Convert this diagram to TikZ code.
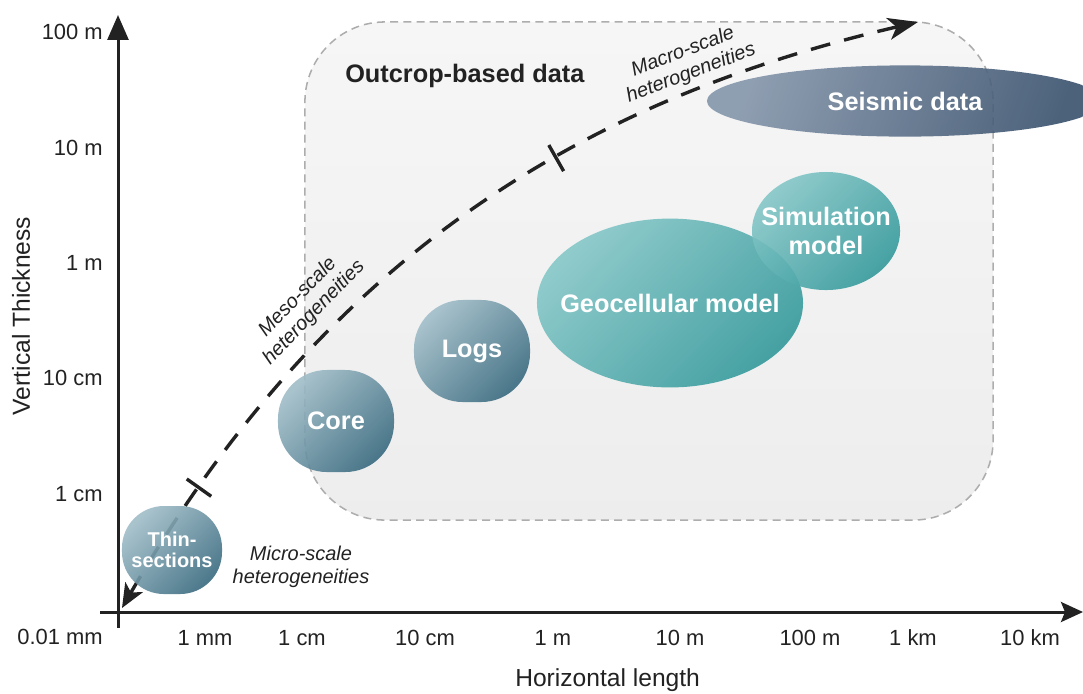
\documentclass[tikz,border=0pt]{standalone}
\usepackage{fontspec}
\setmainfont{Liberation Sans}
\usetikzlibrary{shapes,arrows.meta,decorations.markings}

\definecolor{axisgray}{HTML}{222222}
\definecolor{boxline}{HTML}{ADADAD}
\definecolor{bluelight}{HTML}{A0BDC8}
\definecolor{bluedark}{HTML}{3A6B80}
\definecolor{teallight}{HTML}{86C7C8}
\definecolor{tealdark}{HTML}{34999B}
\definecolor{slatelight}{HTML}{8596AB}
\definecolor{slatedark}{HTML}{38506C}

\tikzset{
  scalelabel/.style={font=\fontsize{15.6}{18}\selectfont, text=axisgray, inner sep=0pt},
  axistitle/.style={font=\fontsize{17.5}{20}\selectfont, text=axisgray, inner sep=0pt},
  hetlabel/.style={font=\fontsize{14.2}{16}\selectfont\itshape, text=axisgray, align=center, inner sep=0pt},
  axisline/.style={line width=0.075cm, draw=axisgray},
  outcrop/.style={rectangle, rounded corners=2cm, draw=boxline, line width=0.038cm,
    dash pattern=on 0.2cm off 0.13cm, top color=gray!7, bottom color=gray!14},
  blobtext/.style={text=white, align=center, inner sep=0pt, text opacity=1,
    font=\fontsize{18}{20}\selectfont\bfseries},
  blob/.style={blobtext, fill opacity=0.9},
  datablob/.style={blob, rectangle, rounded corners=1.22cm,
    top color=bluelight, bottom color=bluedark, shading angle=45},
  modelblob/.style={blob, ellipse, top color=teallight, bottom color=tealdark, shading angle=45},
  seismicblob/.style={blob, ellipse, top color=slatelight, bottom color=slatedark, shading angle=70},
  hetcurve/.style={line width=0.085cm, draw=axisgray, dash pattern=on 0.5cm off 0.36cm,
    {Stealth[length=0.6cm,width=0.5cm,inset=0.15cm]}-{Stealth[length=0.75cm,width=0.55cm,inset=0.2cm]},
    postaction={decorate},
    decoration={markings,
      mark=at position 0.14 with {\draw[solid,-,line width=0.085cm] (0,-15) -- (0,15);},
      mark=at position 0.62 with {\draw[solid,-,line width=0.085cm] (0,-15) -- (0,15);}}}
}

\begin{document}
\begin{tikzpicture}[x=0.025cm,y=-0.025cm]
  \useasboundingbox (0,0) rectangle (1083,693);
  %
  \node[outcrop, minimum width=17.2cm, minimum height=12.45cm] (outcrop) at (649,271) {};
  \node[font=\fontsize{18}{20}\selectfont\bfseries, text=axisgray, anchor=west, inner sep=0pt]
    (outcroplbl) at (345,76) {Outcrop-based data};
  %
  \coordinate (micro) at (122,608);
  \coordinate (macro) at (918,22);
  \draw[hetcurve] (micro) .. controls (322,262) and (577,101) .. (macro);
  %
  \node[datablob, minimum width=2.5cm, minimum height=2.2cm, rounded corners=1.05cm,
    font=\fontsize{14.2}{15}\selectfont\bfseries] (thin) at (172,550) {Thin-\\sections};
  \node[datablob, minimum width=2.9cm, minimum height=2.55cm] (core) at (336,421) {Core};
  \node[datablob, minimum width=2.9cm, minimum height=2.55cm] (logs) at (472,351) {Logs};
  \node[modelblob, minimum width=6.65cm, minimum height=4.22cm,
    label={[blobtext]center:Geocellular model}] (geocell) at (670,303) {};
  \node[modelblob, minimum width=3.7cm, minimum height=2.95cm,
    label={[blobtext]center:Simulation\\model}] (simul) at (826,231) {};
  \node[seismicblob, minimum width=9.9cm, minimum height=1.78cm,
    label={[blobtext]center:Seismic data}] (seismic) at (905,101) {};
  %
  \node[hetlabel] (microlbl) at (301,567) {Micro-scale\\heterogeneities};
  \node[hetlabel, rotate=46] (mesolbl) at (306,305) {Meso-scale\\heterogeneities};
  \node[hetlabel, rotate=21] (macrolbl) at (687,63) {Macro-scale\\heterogeneities};
  %
  \coordinate (yfoot) at (118,628);
  \coordinate (ytop) at (118,15);
  \coordinate (xfoot) at (100,612);
  \coordinate (xend) at (1083,612);
  \draw[axisline, -{Triangle[length=0.62cm,width=0.52cm]}] (yfoot) -- (ytop);
  \draw[axisline, -{Stealth[length=0.55cm,width=0.5cm,inset=0.1cm]}] (xfoot) -- (xend);
  %
  \node[scalelabel, anchor=east] (y100m) at (103,32) {100 m};
  \node[scalelabel, anchor=east] (y10m) at (103,148) {10 m};
  \node[scalelabel, anchor=east] (y1m) at (103,263) {1 m};
  \node[scalelabel, anchor=east] (y10cm) at (103,378) {10 cm};
  \node[scalelabel, anchor=east] (y1cm) at (103,494) {1 cm};
  \node[scalelabel, anchor=east] (y001mm) at (103,637) {0.01 mm};
  %
  \node[scalelabel] (x1mm) at (205,638) {1 mm};
  \node[scalelabel] (x1cm) at (302,638) {1 cm};
  \node[scalelabel] (x10cm) at (425,638) {10 cm};
  \node[scalelabel] (x1m) at (553,638) {1 m};
  \node[scalelabel] (x10m) at (680,638) {10 m};
  \node[scalelabel] (x100m) at (810,638) {100 m};
  \node[scalelabel] (x1km) at (913,638) {1 km};
  \node[scalelabel] (x10km) at (1030,638) {10 km};
  %
  \node[axistitle, anchor=west] (xtitle) at (515,680) {Horizontal length};
  \node[axistitle, rotate=90] (ytitle) at (21,316) {Vertical Thickness};
\end{tikzpicture}
\end{document}
